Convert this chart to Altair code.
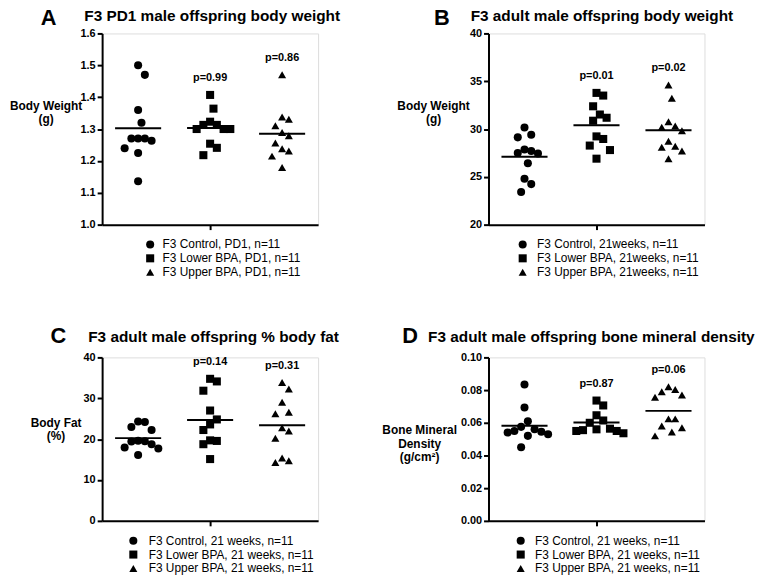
import altair as alt
import pandas as pd

FONT = "Liberation Sans, Arial, Helvetica, sans-serif"

# ---------------- data ----------------
letters = ["A", "B", "C", "D"]
titles = [
    "F3 PD1 male offspring body weight",
    "F3 adult male offspring body weight",
    "F3 adult male offspring % body fat",
    "F3 adult male offspring bone mineral density",
]
y_titles = [
    ["Body Weight", "(g)"],
    ["Body Weight", "(g)"],
    ["Body Fat", "(%)"],
    ["Bone Mineral", "Density", "(g/cm²)"],
]
legend_labels = [
    ["F3 Control, PD1, n=11", "F3 Lower BPA, PD1, n=11", "F3 Upper BPA, PD1, n=11"],
    ["F3 Control, 21weeks, n=11", "F3 Lower BPA, 21weeks, n=11", "F3 Upper BPA, 21weeks, n=11"],
    ["F3 Control, 21 weeks, n=11", "F3 Lower BPA, 21 weeks, n=11", "F3 Upper BPA, 21 weeks, n=11"],
    ["F3 Control, 21 weeks, n=11", "F3 Lower BPA, 21 weeks, n=11", "F3 Upper BPA, 21 weeks, n=11"],
]
p_labels = [
    ["", "p=0.99", "p=0.86"],
    ["", "p=0.01", "p=0.02"],
    ["", "p=0.14", "p=0.31"],
    ["", "p=0.87", "p=0.06"],
]
y_domains = [[1.0, 1.6], [20, 40], [0, 40], [0.0, 0.10]]
y_ticks = [
    [1.0, 1.1, 1.2, 1.3, 1.4, 1.5, 1.6],
    [20, 25, 30, 35, 40],
    [0, 10, 20, 30, 40],
    [0.0, 0.02, 0.04, 0.06, 0.08, 0.10],
]
y_formats = [".1f", "d", "d", ".2f"]

A_control = [1.50, 1.47, 1.36, 1.32, 1.27, 1.24, 1.27, 1.225, 1.263, 1.27, 1.136]
A_lower = [1.407, 1.364, 1.323, 1.313, 1.313, 1.30, 1.30, 1.30, 1.254, 1.241, 1.218]
A_upper = [1.47, 1.338, 1.331, 1.31, 1.289, 1.279, 1.256, 1.238, 1.231, 1.215, 1.179]

B_control = [30.15, 29.4, 29.13, 27.45, 27.86, 27.7, 27.5, 26.43, 24.79, 24.24, 23.42]
B_lower = [33.78, 33.5, 32.38, 31.52, 31.18, 30.87, 29.23, 28.96, 28.27, 27.8, 26.9]
B_upper = [34.6, 33.23, 30.77, 30.19, 30.32, 29.81, 28.72, 28.1, 28.2, 27.7, 26.9]

C_control = [22.96, 24.17, 24.33, 22.23, 19.4, 19.6, 19.5, 18.76, 17.95, 17.7, 16.1]
C_lower = [34.76, 34.12, 31.85, 27.0, 24.82, 23.6, 22.23, 19.56, 19.7, 18.76, 15.12]
C_upper = [33.87, 32.26, 29.02, 26.19, 26.6, 21.99, 22.8, 20.2, 15.36, 14.3, 14.7]

D_control = [0.0834, 0.0694, 0.061, 0.0575, 0.056, 0.055, 0.0545, 0.054, 0.053, 0.052, 0.045]
D_lower = [0.0736, 0.0706, 0.0646, 0.0614, 0.060, 0.056, 0.0564, 0.055, 0.0536, 0.055, 0.0555]
D_upper = [0.082, 0.079, 0.0756, 0.077, 0.0804, 0.0624, 0.0624, 0.057, 0.058, 0.052, 0.0544]

panel_groups = [
    [A_control, A_lower, A_upper],
    [B_control, B_lower, B_upper],
    [C_control, C_lower, C_upper],
    [D_control, D_lower, D_upper],
]

# ---------------- layout / style ----------------
W = 218
HEIGHTS = [193, 193, 165, 165]
PX_PER_UNIT = W / 3.0
ytitle_pos = [(-57, 73), (-56, 73), (-47, 66), (-70, 73)]
ytitle_lh = [13, 13, 13, 13.5]
letter_pos = [(-62, -9), (-55, -9), (-52, -15), (-87, -15)]
title_pos = [(-18, -13), (-18, -13), (-14, -16), (-61, -16)]
legend_pos = [(42.5, 6.5), (28.5, 8.5), (25.5, 9.5), (26.5, 8.5)]
SHAPES = ["circle", "square", "triangle-up"]


def swarm(vals, dom, H, step=3.4, rx=6.7, ry=14.0):
    """Dot-plot spreading: each point takes the nearest free horizontal slot."""
    ypx = [(v - dom[0]) / (dom[1] - dom[0]) * H for v in vals]
    order = sorted(range(len(vals)), key=lambda i: -vals[i])
    cands = [0.0]
    for j in range(1, 30):
        cands += [j * step, -j * step]
    placed, offs = [], [0.0] * len(vals)
    for i in order:
        for c in cands:
            if all(((c - px) / rx) ** 2 + ((ypx[i] - py) / ry) ** 2 >= 1.0 for px, py in placed):
                break
        placed.append((c, ypx[i]))
        offs[i] = c
    return offs


def make_panel(k):
    H = HEIGHTS[k]
    dom = y_domains[k]
    labels = legend_labels[k]
    rows = []
    for g, vals in enumerate(panel_groups[k]):
        offs = swarm(vals, dom, H)
        for v, o in zip(vals, offs):
            rows.append({"group": labels[g], "gi": g, "value": v,
                         "xpos": g + o / PX_PER_UNIT, "plabel": p_labels[k][g]})
    df = pd.DataFrame(rows)

    xaxis = alt.Axis(values=[1], labels=False, title=None, grid=False, tickSize=5,
                     tickWidth=2, tickColor="black", domainWidth=2, domainColor="black")
    yaxis = alt.Axis(values=y_ticks[k], format=y_formats[k], title=y_titles[k],
                     titleAngle=0, titleX=ytitle_pos[k][0], titleY=ytitle_pos[k][1],
                     titleAlign="center", titleBaseline="middle", titleFontSize=12,
                     titleFont=FONT, titleFontWeight="bold", titleColor="black",
                     titleLineHeight=ytitle_lh[k], labelFontSize=11, labelFont=FONT,
                     labelFontWeight="bold", labelColor="black", labelPadding=2,
                     tickSize=5, tickWidth=2, tickColor="black", domainWidth=2,
                     domainColor="black", grid=False)
    xscale = alt.Scale(domain=[-0.5, 2.5], nice=False, zero=False)
    yscale = alt.Scale(domain=dom, nice=False, zero=False)

    points = alt.Chart(df).mark_point(filled=True, opacity=1, color="black", size=66).encode(
        x=alt.X("xpos:Q", scale=xscale, axis=xaxis),
        y=alt.Y("value:Q", scale=yscale, axis=yaxis),
        shape=alt.Shape("group:N", scale=alt.Scale(domain=labels, range=SHAPES),
                        legend=alt.Legend(orient="none", direction="vertical",
                                          legendX=legend_pos[k][0], legendY=H + 14,
                                          title=None, labelFont=FONT, labelFontSize=12,
                                          labelColor="black", labelOffset=legend_pos[k][1],
                                          labelLimit=400,
                                          symbolSize=66, symbolFillColor="black",
                                          symbolStrokeWidth=0, symbolOpacity=1,
                                          rowPadding=2, padding=0)),
    )
    means = alt.Chart(df).transform_aggregate(
        mean="mean(value)", groupby=["gi"]
    ).transform_calculate(
        x1="datum.gi - 0.32", x2="datum.gi + 0.32"
    ).mark_rule(color="black", strokeWidth=2).encode(
        x=alt.X("x1:Q", scale=xscale, axis=xaxis),
        x2="x2:Q",
        y=alt.Y("mean:Q", scale=yscale, axis=yaxis),
    )
    ptext = alt.Chart(df).transform_filter("datum.plabel != ''").transform_aggregate(
        top="max(value)", groupby=["gi", "plabel"]
    ).mark_text(font=FONT, fontSize=11, fontWeight="bold", color="black", dy=-17,
                baseline="middle").encode(
        x=alt.X("gi:Q", scale=xscale, axis=xaxis),
        y=alt.Y("top:Q", scale=yscale, axis=yaxis),
        text="plabel:N",
    )
    letter = alt.Chart(pd.DataFrame({"t": [letters[k]]})).mark_text(
        font=FONT, fontSize=22, fontWeight="bold", color="black", align="left",
        baseline="alphabetic").encode(
        text="t:N", x=alt.value(letter_pos[k][0]), y=alt.value(letter_pos[k][1]))
    title = alt.Chart(pd.DataFrame({"t": [titles[k]]})).mark_text(
        font=FONT, fontSize=15.5, fontWeight="bold", color="black", align="left",
        baseline="alphabetic").encode(
        text="t:N", x=alt.value(title_pos[k][0]), y=alt.value(title_pos[k][1]))
    return alt.layer(points, means, ptext, letter, title).properties(width=W, height=H)


panels = [make_panel(k) for k in range(4)]
chart = alt.concat(
    *panels, columns=2, spacing={"row": 134, "column": 172}, bounds="flush"
).resolve_scale(
    x="independent", y="independent", shape="independent"
).resolve_legend(shape="independent").properties(
    padding={"left": 0, "top": -5, "right": 0, "bottom": 0}, background="white"
).configure_view(stroke="transparent", strokeWidth=0).configure(font=FONT)

chart.save("out.html", embed_options={"renderer": "svg", "actions": False})
